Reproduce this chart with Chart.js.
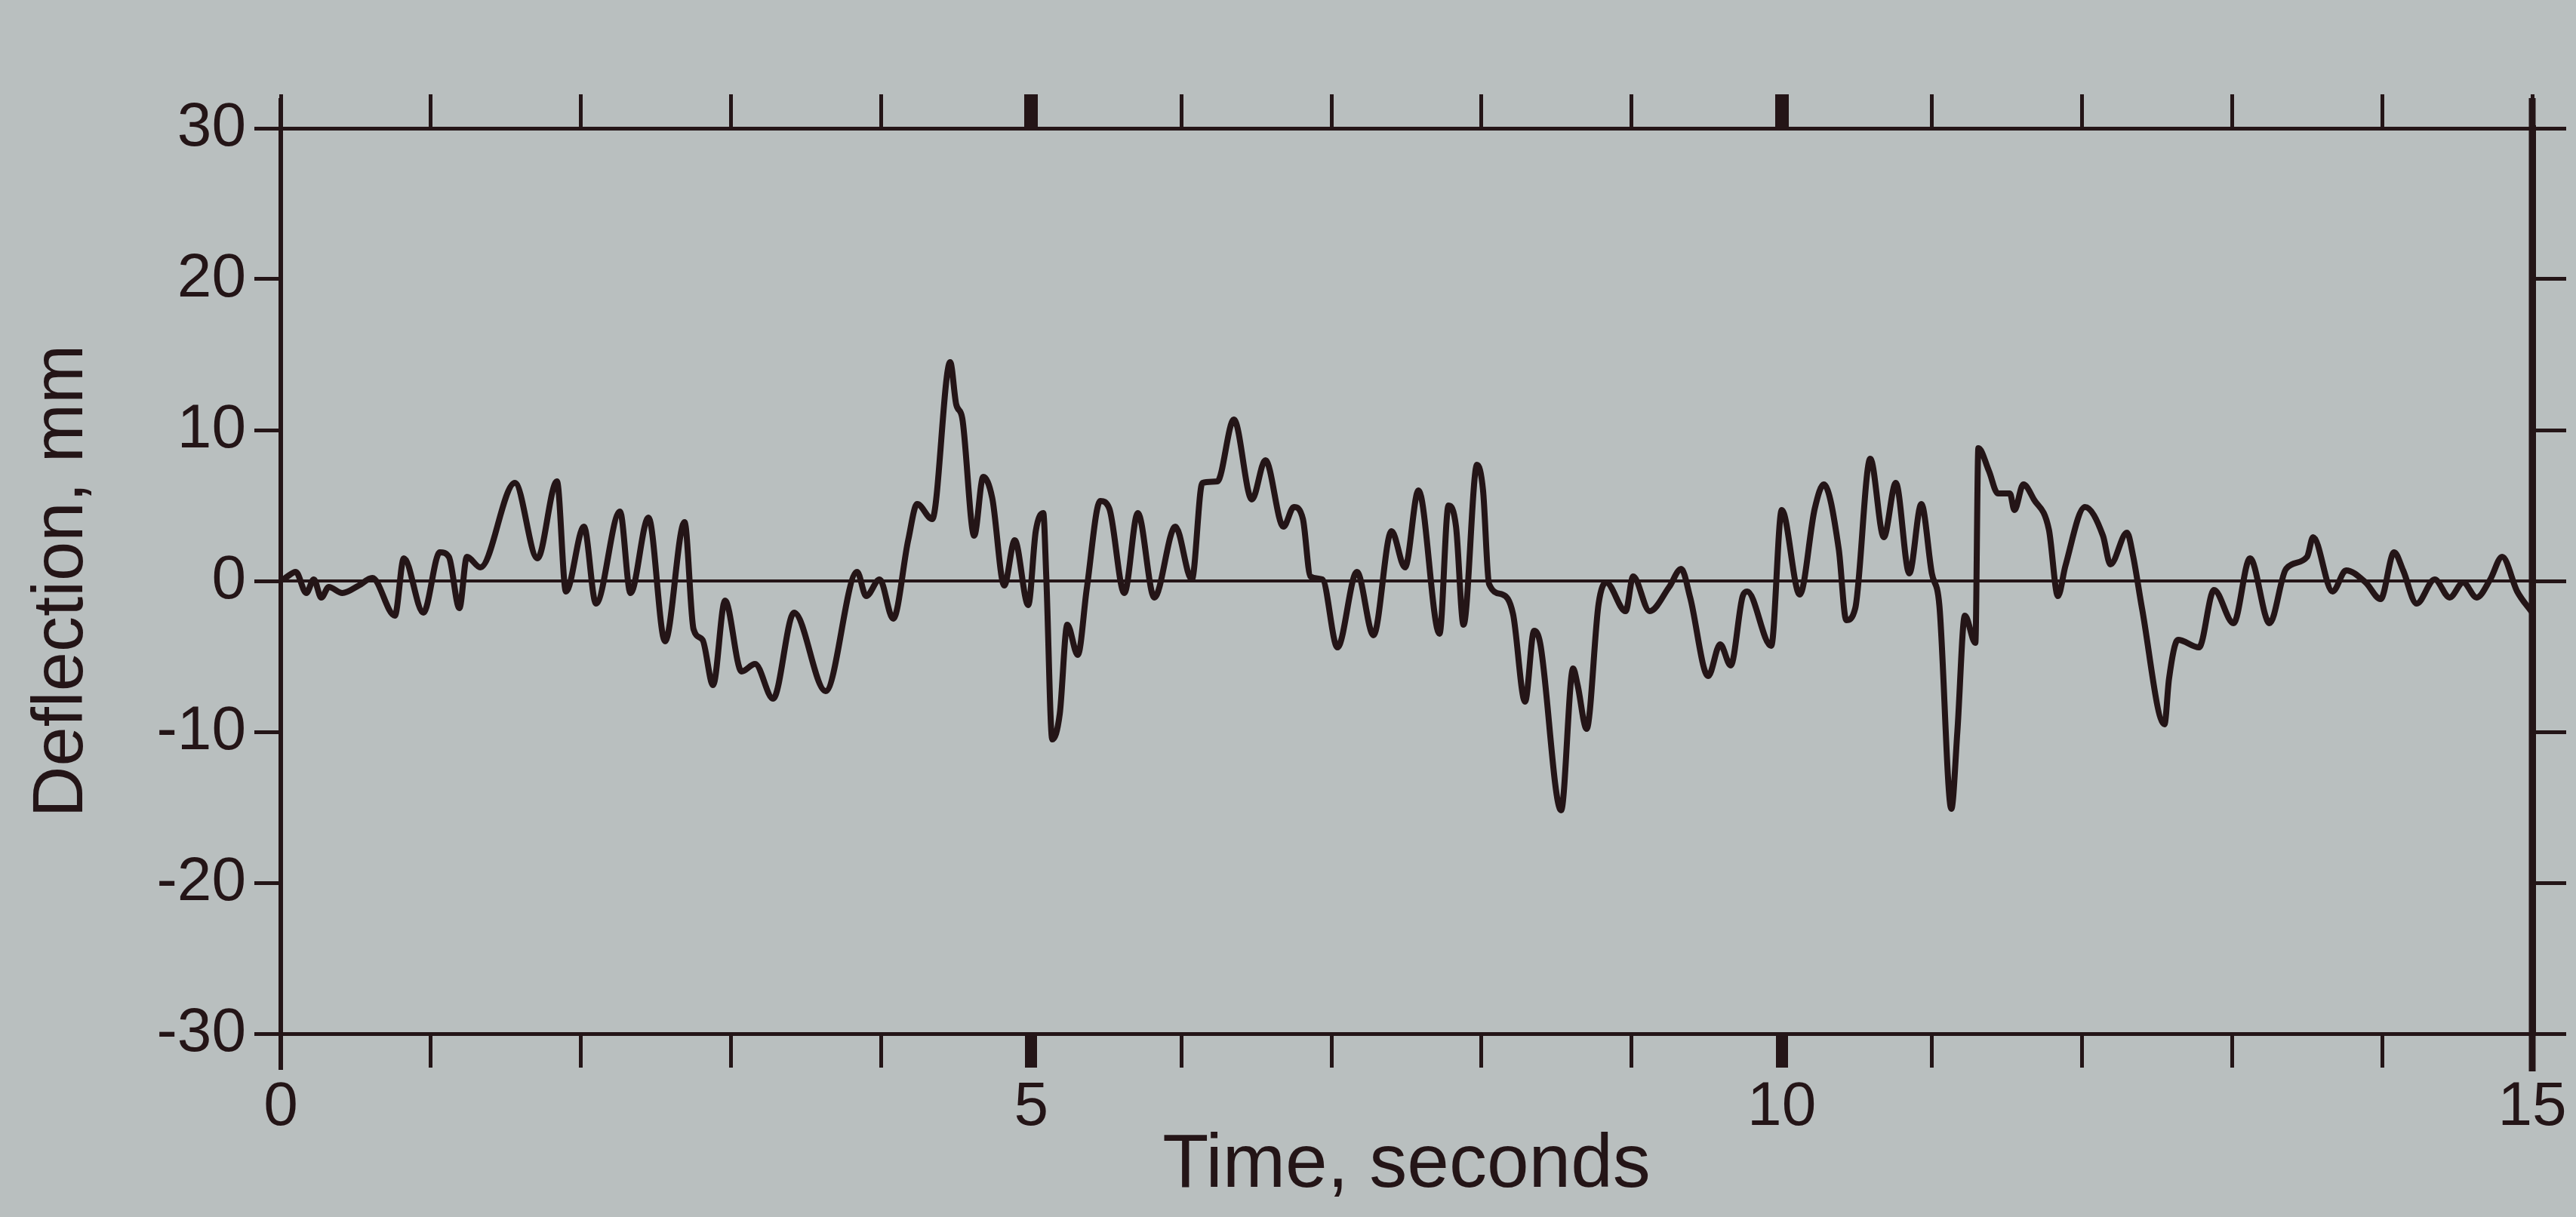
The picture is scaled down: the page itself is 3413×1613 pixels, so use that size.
<!DOCTYPE html>
<html>
<head>
<meta charset="utf-8">
<title>Deflection vs time</title>
<script src="https://cdn.jsdelivr.net/npm/chart.js@4.4.1/dist/chart.umd.min.js"></script>
<style>
    html, body { margin: 0; padding: 0; background: #b9bfbf; }
    #wrap { width: 3413px; height: 1613px; position: relative; }
</style>
</head>
<body>
<div id="wrap"><canvas id="deflectionChart"></canvas></div>
<script>
// 時間軸 (秒)
const traceTime = [
    0.03, 0.10, 0.17, 0.22, 0.27, 0.32, 0.41, 0.52, 0.61, 0.76, 0.82, 0.95,
    1.06, 1.12, 1.19, 1.24, 1.33, 1.56, 1.71, 1.84, 1.90, 2.02, 2.10, 2.26,
    2.33, 2.45, 2.56, 2.69, 2.75, 2.81, 2.88, 2.96, 3.07, 3.16, 3.28, 3.42,
    3.63, 3.84, 3.90, 3.99, 4.08, 4.18, 4.24, 4.34, 4.46, 4.50, 4.54, 4.62,
    4.68, 4.74, 4.82, 4.89, 4.98, 5.03, 5.08, 5.10, 5.14, 5.19, 5.24, 5.31,
    5.37, 5.46, 5.52, 5.62, 5.71, 5.82, 5.96, 6.07, 6.14, 6.24, 6.35, 6.47,
    6.56, 6.68, 6.75, 6.81, 6.86, 6.94, 7.04, 7.17, 7.28, 7.40, 7.49, 7.58,
    7.72, 7.78, 7.83, 7.88, 7.97, 8.01, 8.05, 8.14, 8.21, 8.29, 8.35, 8.39,
    8.53, 8.61, 8.64, 8.70, 8.78, 8.83, 8.96, 9.01, 9.12, 9.25, 9.33, 9.39,
    9.51, 9.59, 9.66, 9.74, 9.77, 9.93, 10.00, 10.12, 10.22, 10.28, 10.38, 10.43,
    10.49, 10.59, 10.68, 10.76, 10.85, 10.93, 11.00, 11.05, 11.13, 11.17, 11.22, 11.29,
    11.31, 11.38, 11.44, 11.52, 11.55, 11.61, 11.68, 11.78, 11.84, 11.89, 12.02, 12.14,
    12.19, 12.30, 12.34, 12.40, 12.55, 12.58, 12.64, 12.78, 12.88, 13.01, 13.12, 13.25,
    13.36, 13.50, 13.54, 13.67, 13.76, 13.89, 13.99, 14.08, 14.14, 14.23, 14.35, 14.45,
    14.54, 14.63, 14.72, 14.80, 14.90, 15.00
];

// 撓度 (mm)
const traceDeflection = [
    0.2, 0.6, -0.8, 0.1, -1.1, -0.4, -0.8, -0.3, 0.2, -2.3, 1.5, -2.1,
    1.9, 1.6, -1.8, 1.6, 0.9, 6.5, 1.5, 6.6, -0.7, 3.6, -1.5, 4.6,
    -0.8, 4.2, -4.0, 3.9, -3.2, -3.9, -6.9, -1.3, -6.0, -5.5, -7.8, -2.1,
    -7.3, 0.6, -1.0, 0.1, -2.5, 2.7, 5.1, 4.1, 14.5, 11.7, 10.8, 3.0,
    6.9, 5.5, -0.3, 2.7, -1.6, 3.3, 4.5, 0.3, -10.5, -8.8, -2.9, -4.9,
    -0.5, 5.3, 4.8, -0.8, 4.5, -1.1, 3.6, 0.1, 6.5, 6.6, 10.7, 5.4,
    8.0, 3.6, 4.9, 4.1, 0.3, 0.1, -4.4, 0.6, -3.6, 3.3, 0.9, 6.0,
    -3.5, 5.0, 3.6, -2.9, 7.7, 6.0, -0.2, -0.9, -2.2, -8.0, -3.3, -4.1,
    -15.2, -5.8, -6.9, -9.8, -1.5, -0.1, -2.0, 0.3, -2.0, -0.4, 0.8, -1.1,
    -6.3, -4.2, -5.6, -1.0, -0.7, -4.3, 4.7, -0.9, 4.8, 6.4, 2.1, -2.6,
    -1.8, 8.1, 2.9, 6.5, 0.5, 5.1, 0.5, -1.6, -15.1, -10.0, -2.3, -4.1,
    8.8, 7.3, 5.8, 5.8, 4.7, 6.4, 5.4, 3.4, -1.0, 1.0, 4.9, 3.0,
    1.1, 3.2, 1.7, -1.8, -9.5, -6.5, -3.9, -4.4, -0.6, -2.8, 1.5, -2.8,
    0.8, 1.6, 2.9, -0.7, 0.7, -0.1, -1.2, 1.9, 0.7, -1.5, 0.1, -1.1,
    -0.1, -1.1, 0.1, 1.6, -0.7, -2.1
];

// 零線
const baselineTime = [0, 15];
const baselineDeflection = [0, 0];

// 刻度
const timeLabels = [0, 5, 10, 15];
const majorTimeTicks = [5, 10];
const deflectionTicks = [-30, -20, -10, 0, 10, 20, 30];

const INK = '#241517';
const PAPER = '#b9bfbf';
const FONT = '"Liberation Sans", Arial, Helvetica, sans-serif';

// 背景與軸線延伸
const paperPlugin = {
    id: 'paper',
    beforeDraw: function(chart) {
        const ctx = chart.ctx;
        ctx.save();
        ctx.fillStyle = PAPER;
        ctx.fillRect(0, 0, chart.width, chart.height);
        ctx.restore();
    },
    afterDraw: function(chart) {
        const ctx = chart.ctx;
        const area = chart.chartArea;
        const y = chart.scales.y;
        const top = y.getPixelForValue(30);
        const bottom = y.getPixelForValue(-30);
        ctx.save();
        ctx.strokeStyle = INK;
        ctx.lineCap = 'butt';
        // 左軸
        ctx.lineWidth = 6;
        ctx.beginPath();
        ctx.moveTo(area.left, top - 40);
        ctx.lineTo(area.left, bottom + 48);
        ctx.stroke();
        // 右軸
        ctx.lineWidth = 9;
        ctx.beginPath();
        ctx.moveTo(area.right, top - 40);
        ctx.lineTo(area.right, bottom + 50);
        ctx.stroke();
        ctx.restore();
    }
};

const ctx = document.getElementById('deflectionChart').getContext('2d');

new Chart(ctx, {
    type: 'line',
    data: {
        datasets: [
            {
                label: 'Deflection',
                data: traceTime.map((t, i) => ({ x: t, y: traceDeflection[i] })),
                borderColor: INK,
                borderWidth: 8,
                pointRadius: 0,
                cubicInterpolationMode: 'monotone',
                borderJoinStyle: 'round',
                borderCapStyle: 'round',
                xAxisID: 'x',
                yAxisID: 'y'
            },
            {
                label: 'Zero',
                data: baselineTime.map((t, i) => ({ x: t, y: baselineDeflection[i] })),
                borderColor: INK,
                borderWidth: 4,
                pointRadius: 0,
                xAxisID: 'x',
                yAxisID: 'y'
            }
        ]
    },
    options: {
        responsive: true,
        maintainAspectRatio: false,
        animation: false,
        layout: { padding: 0 },
        plugins: {
            legend: { display: false },
            tooltip: { enabled: false }
        },
        scales: {
            x: {
                type: 'linear',
                position: 'bottom',
                min: 0,
                max: 15,
                afterFit: function(scale) { scale.height = 243; },
                ticks: {
                    stepSize: 1,
                    autoSkip: false,
                    maxRotation: 0,
                    padding: 4,
                    color: INK,
                    font: { family: FONT, size: 82 },
                    callback: function(value) {
                        return timeLabels.includes(value) ? String(value) : '';
                    }
                },
                grid: {
                    drawOnChartArea: false,
                    tickLength: 45,
                    color: INK,
                    lineWidth: function(c) {
                        return c.tick && majorTimeTicks.includes(c.tick.value) ? 16 : 5;
                    }
                },
                border: { display: true, color: INK, width: 5 },
                title: {
                    display: true,
                    text: 'Time, seconds',
                    color: INK,
                    font: { family: FONT, size: 100 },
                    padding: { top: 0, bottom: 8 }
                }
            },
            x2: {
                type: 'linear',
                position: 'top',
                min: 0,
                max: 15,
                afterFit: function(scale) { scale.height = 170; },
                ticks: { stepSize: 1, autoSkip: false, display: false },
                grid: {
                    drawOnChartArea: false,
                    tickLength: 45,
                    color: INK,
                    lineWidth: function(c) {
                        return c.tick && majorTimeTicks.includes(c.tick.value) ? 18 : 5;
                    }
                },
                border: { display: true, color: INK, width: 5 }
            },
            y: {
                type: 'linear',
                position: 'left',
                min: -30,
                max: 30,
                afterFit: function(scale) { scale.width = 372; },
                afterBuildTicks: function(scale) {
                    scale.ticks = deflectionTicks.map(v => ({ value: v }));
                },
                ticks: {
                    padding: 11,
                    color: INK,
                    font: { family: FONT, size: 82 }
                },
                grid: {
                    drawOnChartArea: false,
                    tickLength: 35,
                    color: INK,
                    lineWidth: 5
                },
                border: { display: true, color: INK, width: 6 },
                title: {
                    display: true,
                    text: 'Deflection, mm',
                    color: INK,
                    font: { family: FONT, size: 94 },
                    padding: { top: 27, bottom: 0 }
                }
            },
            y2: {
                type: 'linear',
                position: 'right',
                min: -30,
                max: 30,
                afterFit: function(scale) { scale.width = 58; },
                afterBuildTicks: function(scale) {
                    scale.ticks = deflectionTicks.map(v => ({ value: v }));
                },
                ticks: { display: false },
                grid: {
                    drawOnChartArea: false,
                    tickLength: 45,
                    color: INK,
                    lineWidth: 5
                },
                border: { display: true, color: INK, width: 9 }
            }
        }
    },
    plugins: [paperPlugin]
});
</script>
</body>
</html>
